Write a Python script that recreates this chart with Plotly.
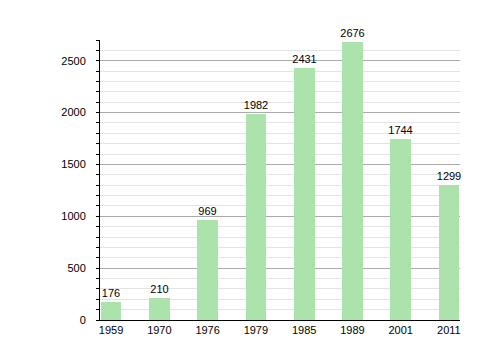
import plotly.graph_objects as go

years = ["1959", "1970", "1976", "1979", "1985", "1989", "2001", "2011"]
population = [176, 210, 969, 1982, 2431, 2676, 1744, 1299]

fig = go.Figure()
fig.add_trace(go.Bar(
    x=list(range(len(years))), y=population,
    text=[str(v) for v in population], textposition="outside",
    textfont=dict(size=11, color="#000"), constraintext="none",
    marker=dict(color="#ace3ac", line=dict(width=0)),
    width=0.43, cliponaxis=False,
))
fig.update_layout(
    width=500, height=360,
    margin=dict(l=100, r=40, t=40, b=40),
    paper_bgcolor="white", plot_bgcolor="white",
    font=dict(family="Liberation Sans, Arial, sans-serif", size=11, color="#000"),
    showlegend=False,
    bargap=0,
)
fig.update_xaxes(
    range=[-0.23, 7.23], tickmode="array", tickvals=list(range(len(years))),
    ticktext=years, showgrid=False, showline=True, linecolor="#000", linewidth=1,
    ticks="", zeroline=False,
)
fig.update_yaxes(
    range=[0, 2700], dtick=500, showgrid=True, gridcolor="#aaaaaa", gridwidth=1,
    showline=True, linecolor="#000", linewidth=1, ticks="outside", ticklen=3,
    tickcolor="#000", zeroline=False, ticklabelstandoff=8,
    minor=dict(dtick=100, showgrid=True, gridcolor="#e3e3e3", ticks="outside",
               ticklen=3, tickcolor="#000"),
)
fig.write_html("out.html")
